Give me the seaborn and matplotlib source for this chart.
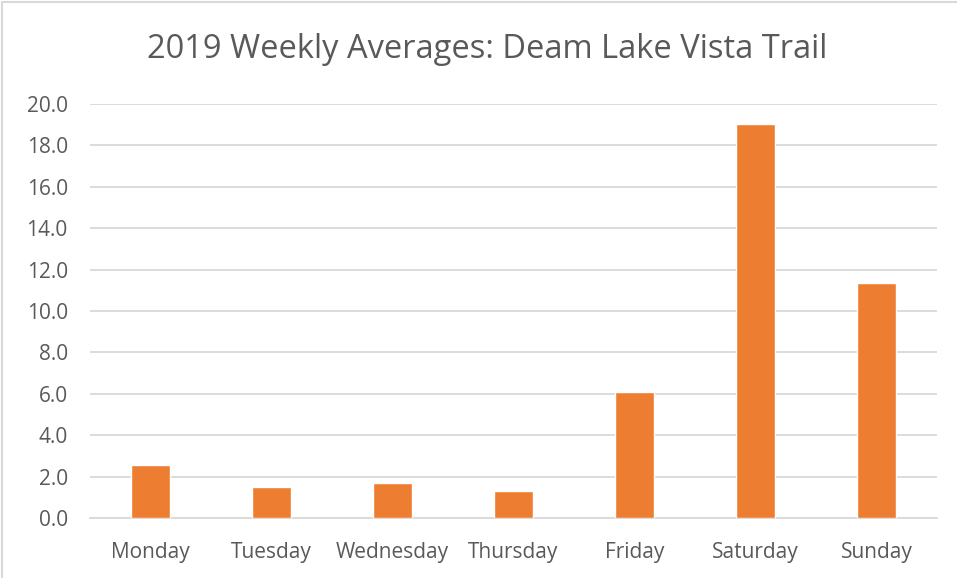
import matplotlib
matplotlib.use('Agg')
import matplotlib.pyplot as plt
import seaborn as sns
from matplotlib.lines import Line2D

days = ['Monday', 'Tuesday', 'Wednesday', 'Thursday', 'Friday', 'Saturday', 'Sunday']
averages = [2.55, 1.50, 1.68, 1.29, 6.08, 19.05, 11.35]
y_ticks = [0, 2, 4, 6, 8, 10, 12, 14, 16, 18, 20]

sns.set_style("white")
plt.rcParams['font.family'] = ['Open Sans', 'DejaVu Sans']

text_color = '#595959'
grid_color = '#d9d9d9'

fig = plt.figure(figsize=(9.57, 5.78), dpi=100)
ax = fig.add_axes([90 / 957, 1 - 518 / 578, 847 / 957, 414 / 578])

sns.barplot(x=days, y=averages, color='#ED7D31', saturation=1, width=0.315, ax=ax, zorder=3)

ax.set_ylim(0, 20)
ax.set_yticks(y_ticks)
ax.set_yticklabels([f'{v:.1f}' for v in y_ticks])
ax.yaxis.grid(True, color=grid_color, linewidth=1.3, zorder=0)
ax.set_axisbelow(True)
for side in ['top', 'right', 'left']:
    ax.spines[side].set_visible(False)
ax.spines['bottom'].set_color(grid_color)
ax.spines['bottom'].set_linewidth(1.3)
ax.tick_params(axis='both', length=0, labelsize=15, colors=text_color)
ax.tick_params(axis='y', pad=16)
ax.tick_params(axis='x', pad=17)
ax.set_xlabel('')
ax.set_ylabel('')

fig.text(487 / 957, 1 - 49 / 578, '2019 Weekly Averages: Deam Lake Vista Trail',
         ha='center', va='center', fontsize=23.5, color=text_color)

# chart frame (left and top edges visible in the original)
fig.add_artist(Line2D([2 / 957, 2 / 957], [0, 1 - 1.5 / 578], transform=fig.transFigure, color=grid_color, linewidth=1.5))
fig.add_artist(Line2D([2 / 957, 1], [1 - 1.5 / 578, 1 - 1.5 / 578], transform=fig.transFigure, color=grid_color, linewidth=1.5))

fig.savefig('out.png', dpi=100)
